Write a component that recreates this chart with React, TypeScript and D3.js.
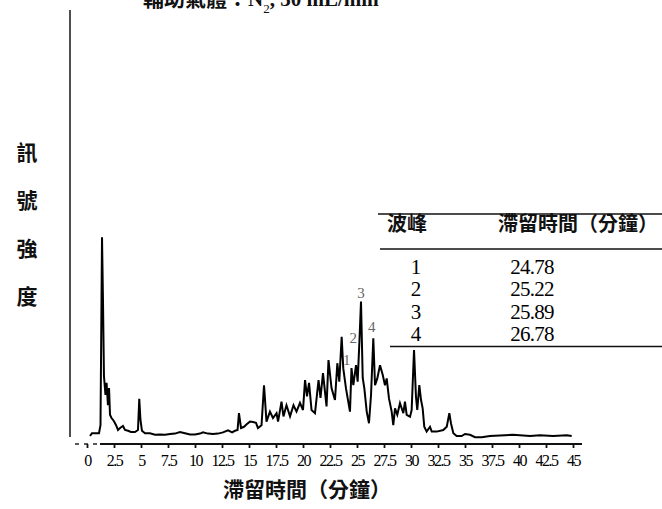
import React, { useRef, useEffect } from 'react';
import * as d3 from 'd3';

// retention time (min) and detector signal (arbitrary units)
const times = [
  0.28, 0.46, 1.11, 1.25, 1.39, 1.48, 1.57, 1.71, 1.81, 1.94, 2.04, 2.13, 2.27, 2.5, 2.69, 2.87,
  3.06, 3.33, 3.52, 3.8, 4.07, 4.44, 4.72, 4.84, 4.95, 5.09, 5.37, 5.83, 6.3, 6.76, 7.22, 7.69,
  8.15, 8.61, 9.07, 9.54, 10.0, 10.46, 10.74, 11.2, 11.67, 12.13, 12.59, 13.06, 13.43, 13.7, 13.94,
  14.07, 14.26, 14.54, 14.81, 15.09, 15.37, 15.65, 15.83, 16.16, 16.39, 16.62, 16.94, 17.22, 17.55,
  17.69, 18.01, 18.19, 18.47, 18.8, 19.12, 19.4, 19.72, 20.0, 20.19, 20.37, 20.56, 20.79, 21.11,
  21.44, 21.62, 21.85, 22.18, 22.36, 22.64, 22.96, 23.18, 23.36, 23.58, 23.73, 23.98, 24.19, 24.35,
  24.49, 24.66, 24.91, 25.06, 25.23, 25.37, 25.53, 25.68, 25.9, 26.11, 26.3, 26.51, 26.67, 26.88,
  27.13, 27.38, 27.59, 27.75, 27.96, 28.21, 28.36, 28.52, 28.73, 28.98, 29.29, 29.44, 29.6, 29.91,
  30.06, 30.28, 30.46, 30.58, 30.77, 30.93, 31.08, 31.23, 31.45, 31.76, 31.92, 32.38, 32.99, 33.31,
  33.55, 33.7, 33.92, 34.23, 34.69, 35.0, 35.46, 35.93, 36.55, 37.31, 38.24, 39.44, 41.02, 41.94,
  43.15, 44.42, 44.88,
];
const signal = [
  0.5, 1.2, 1.2, 3.2, 50.2, 34.5, 15.5, 10.8, 13.8, 8.2, 12.5, 5.8, 5.0, 4.2, 3.2, 2.0,
  2.5, 3.0, 2.0, 1.8, 1.5, 1.5, 2.0, 9.8, 4.5, 1.8, 1.2, 1.2, 0.8, 0.9, 0.8, 1.0,
  1.1, 1.5, 1.2, 0.9, 0.9, 1.1, 1.4, 1.1, 1.0, 1.1, 1.4, 1.9, 1.4, 1.8, 2.0,
  6.2, 2.5, 2.8, 3.5, 4.1, 4.0, 3.8, 2.5, 3.2, 13.2, 4.1, 6.6, 5.0, 6.2,
  4.1, 9.1, 5.4, 8.2, 5.4, 8.2, 6.6, 8.8, 7.0, 14.5, 10.4, 13.8, 7.0, 6.2,
  14.5, 10.0, 16.2, 7.9, 19.5, 12.5, 9.5, 18.7, 14.1, 25.3, 17.4, 12.4, 9.1, 6.6,
  17.5, 13.2, 18.2, 14.1, 24.5, 34.1, 15.0, 12.4, 6.6, 3.7, 10.8, 24.9, 13.2, 14.9,
  18.2, 15.8, 13.2, 14.9, 9.9, 6.6, 3.2, 7.4, 5.8, 8.7, 6.2, 9.1, 5.8, 5.3,
  7.0, 22.0, 10.3, 7.0, 13.2, 9.5, 7.4, 2.8, 1.6, 2.8, 1.6, 1.6, 2.0, 2.8,
  6.2, 3.7, 1.2, 0.5, 0.5, 1.0, 0.8, 0.2, 0.2, 0.5, 0.6, 0.8, 0.5, 0.7,
  0.5, 0.7, 0.5,
];

const xTicks = [0, 2.5, 5, 7.5, 10, 12.5, 15, 17.5, 20, 22.5, 25, 27.5, 30, 32.5, 35, 37.5, 40, 42.5, 45];
const xTickLabels = ['0', '2.5', '5', '7.5', '10', '12.5', '15', '17.5', '20', '22.5', '25', '27.5', '30', '32.5', '35', '37.5', '40', '42.5', '45'];

// peak annotations on the trace: label, time and signal where the label sits
const peakIds = ['1', '2', '3', '4'];
const peakLabelTimes = [24.05, 24.66, 25.37, 26.36];
const peakLabelSignals = [19.5, 24.9, 36.2, 27.8];

// retention table
const tablePeaks = ['1', '2', '3', '4'];
const tableTimes = ['24.78', '25.22', '25.89', '26.78'];

const yLabelChars = ['訊', '號', '強', '度'];

const CJK = '"Noto Sans CJK TC", "Noto Sans CJK SC", sans-serif';
const SERIF = '"Liberation Serif", "DejaVu Serif", serif';

const App = () => {
  const svgRef = useRef(null);

  useEffect(() => {
    const width = 662;
    const height = 509;

    d3.select(svgRef.current).selectAll('*').remove();
    const svg = d3.select(svgRef.current).attr('width', width).attr('height', height);

    const xScale = d3.scaleLinear().domain([0, 45]).range([87, 573]);
    const yScale = d3.scaleLinear().domain([0, 100]).range([438, 38]);

    // title (cut off at top, as in the scan)
    const title = svg.append('text')
      .attr('x', 143)
      .attr('y', 6)
      .attr('font-size', 21)
      .attr('fill', '#111');
    title.append('tspan').attr('font-family', CJK).attr('font-weight', 700).text('輔助氣體：');
    title.append('tspan').attr('font-family', SERIF).attr('font-weight', 700).text('N');
    title.append('tspan').attr('font-family', SERIF).attr('font-size', 13).attr('dy', 7).text('2');
    title.append('tspan').attr('font-family', SERIF).attr('font-weight', 700).attr('dy', -7).text(', 30 mL/min');

    // y axis (plain line, no ticks)
    svg.append('line')
      .attr('x1', 70).attr('x2', 70)
      .attr('y1', 10).attr('y2', 437)
      .attr('stroke', '#222').attr('stroke-width', 1.6);

    // y label
    svg.append('g')
      .selectAll('text')
      .data(yLabelChars)
      .enter()
      .append('text')
      .attr('x', 27)
      .attr('y', (d, i) => 160 + i * 48)
      .attr('text-anchor', 'middle')
      .attr('font-family', CJK)
      .attr('font-weight', 700)
      .attr('font-size', 21)
      .attr('fill', '#111')
      .text(d => d);

    // x axis line
    svg.append('line')
      .attr('x1', 75).attr('x2', 98).attr('y1', 444).attr('y2', 444)
      .attr('stroke', '#222').attr('stroke-width', 1.5).attr('stroke-dasharray', '4,5');
    svg.append('line')
      .attr('x1', 100).attr('x2', 582).attr('y1', 444).attr('y2', 444)
      .attr('stroke', '#111').attr('stroke-width', 2);

    const xAxis = d3.axisBottom(xScale)
      .tickValues(xTicks)
      .tickFormat((d, i) => xTickLabels[i])
      .tickSize(4)
      .tickSizeOuter(0)
      .tickPadding(7);

    const gx = svg.append('g')
      .attr('transform', 'translate(0, 444)')
      .call(xAxis);
    gx.select('.domain').remove();
    gx.selectAll('.tick line').attr('stroke', '#111').attr('stroke-width', 1.8);
    gx.selectAll('.tick text')
      .attr('font-family', SERIF)
      .attr('font-size', 16)
      .attr('letter-spacing', -1.5)
      .attr('fill', '#000');

    // x title
    svg.append('text')
      .attr('x', 307)
      .attr('y', 497)
      .attr('text-anchor', 'middle')
      .attr('font-family', CJK)
      .attr('font-weight', 700)
      .attr('font-size', 21)
      .attr('fill', '#111')
      .text('滯留時間（分鐘）');

    // chromatogram trace
    const points = times.map((t, i) => [t, signal[i]]);
    const line = d3.line()
      .x(d => xScale(d[0]))
      .y(d => yScale(d[1]));

    svg.append('path')
      .datum(points)
      .attr('d', line)
      .attr('fill', 'none')
      .attr('stroke', '#000')
      .attr('stroke-width', 2)
      .attr('stroke-linejoin', 'miter');

    // peak labels
    svg.append('g')
      .selectAll('text')
      .data(peakIds)
      .enter()
      .append('text')
      .attr('x', (d, i) => xScale(peakLabelTimes[i]))
      .attr('y', (d, i) => yScale(peakLabelSignals[i]) + 5)
      .attr('text-anchor', 'middle')
      .attr('font-family', SERIF)
      .attr('font-size', 15)
      .attr('fill', '#666')
      .text(d => d);

    // retention table
    const table = svg.append('g');
    table.append('line').attr('x1', 378).attr('x2', 662).attr('y1', 214).attr('y2', 214)
      .attr('stroke', '#111').attr('stroke-width', 1.6);
    table.append('line').attr('x1', 380).attr('x2', 662).attr('y1', 249).attr('y2', 249)
      .attr('stroke', '#111').attr('stroke-width', 1.6);
    table.append('line').attr('x1', 390).attr('x2', 662).attr('y1', 346.5).attr('y2', 346.5)
      .attr('stroke', '#111').attr('stroke-width', 1.6);

    table.append('text')
      .attr('x', 407).attr('y', 231)
      .attr('text-anchor', 'middle')
      .attr('font-family', CJK).attr('font-weight', 700).attr('font-size', 20)
      .attr('fill', '#111')
      .text('波峰');
    table.append('text')
      .attr('x', 578).attr('y', 231)
      .attr('text-anchor', 'middle')
      .attr('font-family', CJK).attr('font-weight', 700).attr('font-size', 20)
      .attr('fill', '#111')
      .text('滯留時間（分鐘）');

    table.selectAll('.pk')
      .data(tablePeaks)
      .enter()
      .append('text')
      .attr('class', 'pk')
      .attr('x', 416)
      .attr('y', (d, i) => 273.5 + i * 22.5)
      .attr('text-anchor', 'middle')
      .attr('font-family', SERIF).attr('font-size', 21)
      .attr('fill', '#000')
      .text(d => d);

    table.selectAll('.rt')
      .data(tableTimes)
      .enter()
      .append('text')
      .attr('class', 'rt')
      .attr('x', 532)
      .attr('y', (d, i) => 273.5 + i * 22.5)
      .attr('text-anchor', 'middle')
      .attr('font-family', SERIF).attr('font-size', 21)
      .attr('letter-spacing', -0.8)
      .attr('fill', '#000')
      .text(d => d);
  }, []);

  return (
    <div style={{ position: 'absolute', left: 0, top: 0, background: '#fff' }}>
      <svg ref={svgRef} style={{ display: 'block' }}></svg>
    </div>
  );
};

export default App;
